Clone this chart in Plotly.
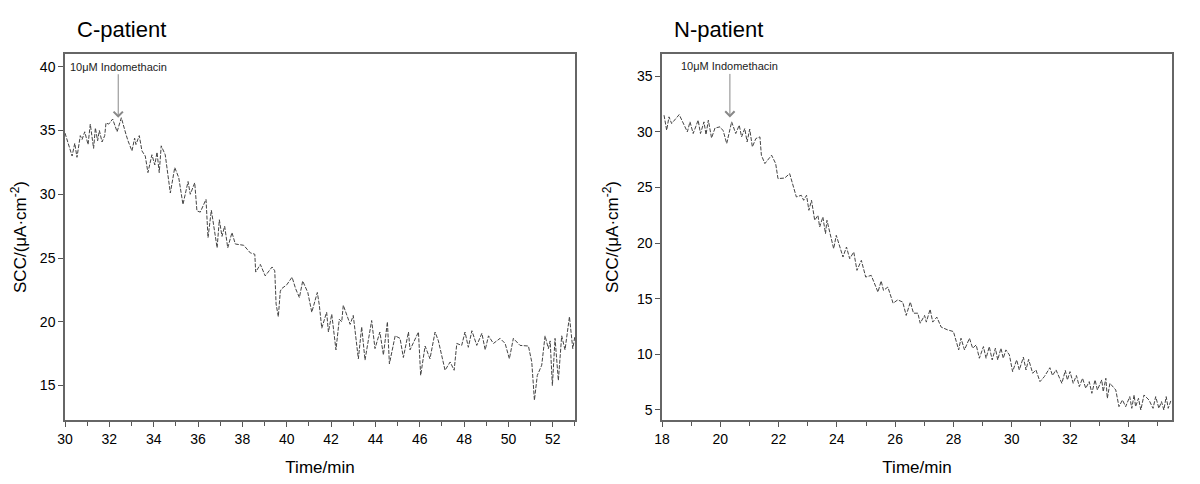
import plotly.graph_objects as go
from plotly.subplots import make_subplots

# ---------------- data ----------------
c_time = [30.0, 30.32, 30.44, 30.54, 30.69, 30.77, 30.89, 31.04, 31.14, 31.29, 31.37, 31.47, 31.55,
          31.67, 31.79, 31.85, 31.97, 32.15, 32.35, 32.54, 32.75, 32.84, 33.02, 33.14, 33.2, 33.35,
          33.47, 33.62, 33.74, 33.92, 34.05, 34.15, 34.25, 34.34, 34.52, 34.75, 34.95, 35.13, 35.32,
          35.55, 35.65, 35.85, 35.95, 36.1, 36.36, 36.45, 36.6, 36.86, 36.96, 37.08, 37.2, 37.34,
          37.53, 37.68, 38.06, 38.36, 38.56, 38.6, 38.81, 39.03, 39.34, 39.46, 39.52, 39.62, 39.71,
          39.77, 40.0, 40.24, 40.4, 40.57, 40.72, 40.95, 41.13, 41.38, 41.47, 41.58, 41.8, 41.88,
          42.03, 42.22, 42.37, 42.48, 42.55, 42.86, 43.0, 43.23, 43.38, 43.53, 43.83, 43.98, 44.2,
          44.36, 44.54, 44.63, 44.89, 45.11, 45.26, 45.49, 45.56, 45.94, 46.04, 46.24, 46.46, 46.69,
          46.84, 47.14, 47.37, 47.55, 47.67, 47.89, 48.04, 48.19, 48.35, 48.57, 48.8, 48.95, 49.1,
          49.32, 49.62, 49.85, 50.04, 50.22, 50.52, 50.9, 51.05, 51.17, 51.3, 51.5, 51.65, 51.8,
          51.88, 51.98, 52.1, 52.25, 52.4, 52.55, 52.75, 52.9, 53.0]
c_scc = [34.8, 33.0, 34.0, 32.9, 34.6, 34.3, 34.9, 33.9, 35.5, 33.6, 35.2, 34.2, 35.0,
         34.1, 34.6, 35.6, 35.5, 35.9, 34.9, 36.0, 34.7, 34.2, 33.4, 34.4, 33.9, 34.6,
         33.4, 33.0, 31.7, 33.1, 32.3, 33.3, 31.7, 33.8, 33.1, 30.1, 32.1, 31.3, 29.2,
         31.0, 30.0, 30.9, 28.7, 28.6, 29.6, 26.6, 28.75, 25.8, 28.0, 26.7, 27.5, 25.8,
         27.0, 26.1, 26.0, 25.4, 25.3, 23.9, 24.5, 23.6, 24.3, 24.0, 21.4, 20.4, 22.4,
         22.6, 22.9, 23.5, 22.6, 21.9, 23.2, 22.3, 20.75, 22.3, 21.3, 19.5, 20.75, 19.2,
         20.6, 17.8, 20.2, 20.0, 21.3, 19.8, 20.5, 17.1, 19.6, 17.0, 20.1, 17.9, 19.2,
         17.4, 20.0, 16.7, 18.9, 18.7, 17.2, 19.2, 17.8, 19.2, 15.8, 18.1, 17.1, 19.2,
         18.5, 16.2, 16.85, 16.2, 18.3, 18.15, 19.2, 18.0, 19.3, 18.15, 19.1, 17.8, 18.9,
         18.3, 18.7, 18.3, 17.1, 18.7, 18.15, 18.1, 16.85, 13.85, 15.8, 16.6, 18.9, 17.9,
         18.5, 15.0, 18.7, 15.4, 18.9, 17.8, 20.4, 17.9, 18.9]

n_time = [18.07, 18.16, 18.24, 18.33, 18.59, 18.87, 18.96, 19.07, 19.24, 19.32, 19.44, 19.51, 19.59,
          19.7, 19.82, 19.99, 20.1, 20.22, 20.39, 20.53, 20.65, 20.73, 20.84, 20.92, 21.01, 21.1,
          21.22, 21.36, 21.41, 21.53, 21.76, 21.9, 21.98, 22.21, 22.38, 22.5, 22.61, 22.78, 22.86,
          22.96, 23.04, 23.13, 23.24, 23.35, 23.41, 23.52, 23.61, 23.66, 23.81, 23.89, 23.98, 24.21,
          24.33, 24.44, 24.58, 24.69, 24.84, 24.99, 25.18, 25.41, 25.52, 25.6, 25.75, 25.93, 26.09,
          26.26, 26.38, 26.52, 26.63, 26.78, 26.86, 27.01, 27.07, 27.2, 27.29, 27.43, 27.58, 27.8,
          28.0, 28.18, 28.26, 28.38, 28.55, 28.66, 28.78, 28.89, 29.03, 29.12, 29.23, 29.33, 29.44,
          29.52, 29.63, 29.71, 29.8, 29.92, 30.03, 30.17, 30.26, 30.4, 30.49, 30.58, 30.72, 30.83,
          30.97, 31.12, 31.31, 31.4, 31.52, 31.72, 31.84, 31.91, 32.0, 32.11, 32.22, 32.32, 32.43,
          32.54, 32.66, 32.75, 32.86, 32.94, 33.09, 33.14, 33.23, 33.28, 33.37, 33.57, 33.68, 33.8,
          33.91, 34.05, 34.12, 34.2, 34.25, 34.35, 34.43, 34.54, 34.71, 34.85, 34.94, 35.05, 35.14,
          35.22, 35.3, 35.37, 35.47]
n_scc = [31.5, 30.15, 31.35, 30.75, 31.55, 30.0, 30.9, 29.85, 31.05, 29.85, 30.9, 29.75, 31.05,
         29.45, 30.35, 30.45, 30.1, 28.95, 30.9, 29.85, 30.6, 29.55, 30.3, 29.1, 30.25, 28.65,
         29.4, 29.55, 27.9, 27.15, 27.9, 27.15, 25.8, 25.85, 26.25, 25.2, 24.15, 24.3, 23.85,
         24.3, 22.95, 23.85, 22.05, 22.5, 21.45, 22.35, 20.85, 22.05, 20.55, 19.5, 20.7, 18.75,
         19.65, 18.6, 19.2, 17.55, 18.45, 16.95, 17.1, 15.6, 16.6, 15.75, 16.05, 14.6, 14.9,
         14.7, 13.5, 14.7, 13.7, 13.7, 12.8, 13.5, 12.9, 14.05, 12.9, 13.35, 12.45, 12.2,
         12.05, 10.4, 11.45, 10.4, 11.45, 10.55, 10.85, 9.65, 10.7, 9.65, 10.7, 9.5, 10.55,
         9.5, 10.55, 9.65, 10.4, 9.95, 8.45, 9.5, 8.6, 9.75, 8.6, 9.55, 8.3, 8.6,
         7.55, 8.0, 8.8, 8.1, 8.6, 7.4, 8.55, 7.7, 8.45, 7.4, 8.1, 7.1, 7.85,
         6.95, 7.55, 6.5, 7.7, 6.8, 7.7, 6.65, 7.85, 6.05, 7.4, 6.8, 5.3, 5.9,
         5.3, 6.2, 5.15, 6.35, 5.3, 6.05, 5.0, 6.35, 5.9, 5.15, 6.2, 5.15, 5.75,
         5.0, 6.2, 5.15, 5.9]

panel_titles = ["C-patient", "N-patient"]
x_ranges = [[30, 53], [18, 35.5]]
y_ranges = [[12.3, 41.0], [4.1, 37.0]]
x_ticks = [list(range(30, 53, 2)), list(range(18, 35, 2))]
y_ticks = [list(range(15, 41, 5)), list(range(5, 36, 5))]
drug_label = "10μM Indomethacin"
drug_points = [(32.4, 36.0), (20.33, 31.3)]

# ---------------- figure ----------------
FONT = "Arial, Liberation Sans, sans-serif"
fig = make_subplots(rows=1, cols=2, horizontal_spacing=0.0786)

fig.add_trace(go.Scatter(x=c_time, y=c_scc, mode="lines",
                         line=dict(color="#444444", width=1, dash="4px,1.5px"),
                         showlegend=False), row=1, col=1)
fig.add_trace(go.Scatter(x=n_time, y=n_scc, mode="lines",
                         line=dict(color="#444444", width=1, dash="4px,1.5px"),
                         showlegend=False), row=1, col=2)

y_standoffs = [19, 14]
for i in range(2):
    c = i + 1
    fig.update_xaxes(row=1, col=c, range=x_ranges[i], tickvals=x_ticks[i], automargin=False,
                     ticks="outside", ticklen=5, tickwidth=1, tickcolor="#555",
                     minor=dict(dtick=1, ticks="outside", ticklen=4, tickcolor="#555"),
                     showline=True, linecolor="#666", linewidth=1.5, mirror=True,
                     showgrid=False, zeroline=False,
                     tickfont=dict(family=FONT, size=14, color="#000"),
                     title=dict(text="Time/min", font=dict(family=FONT, size=17, color="#000"),
                                standoff=16))
    fig.update_yaxes(row=1, col=c, range=y_ranges[i], tickvals=y_ticks[i], automargin=False,
                     ticks="outside", ticklen=5, tickwidth=1, tickcolor="#555",
                     showline=True, linecolor="#666", linewidth=1.5, mirror=True,
                     showgrid=False, zeroline=False,
                     tickfont=dict(family=FONT, size=14, color="#000"),
                     title=dict(text="SCC/(μA·cm<sup>-2</sup>)",
                                font=dict(family=FONT, size=17, color="#000"),
                                standoff=y_standoffs[i]))

fig.update_xaxes(domain=[0, 0.4607], row=1, col=1)
fig.update_xaxes(domain=[0.5393, 1.0], row=1, col=2)

for i, (xref, yref) in enumerate([("x", "y"), ("x2", "y2")]):
    fig.add_annotation(xref=f"{xref} domain", yref=f"{yref} domain", x=0.0196, y=1.0656,
                       text=panel_titles[i], showarrow=False, xanchor="left", yanchor="middle",
                       font=dict(family=FONT, size=22, color="#000"))
    px, py = drug_points[i]
    fig.add_annotation(xref=xref, yref=yref, x=px, y=py, text=drug_label,
                       showarrow=True, arrowhead=4, arrowsize=1.8, arrowwidth=1,
                       arrowcolor="#888", ax=0, ay=-51,
                       font=dict(family=FONT, size=11, color="#222"))

# The page body adds an 8px offset, so the figure is 8px smaller and shifted accordingly.
fig.update_layout(width=1192, height=476, margin=dict(l=57, r=28, t=46, b=64),
                  paper_bgcolor="white", plot_bgcolor="white",
                  font=dict(family=FONT, color="#000"))

fig.write_html("out.html")
